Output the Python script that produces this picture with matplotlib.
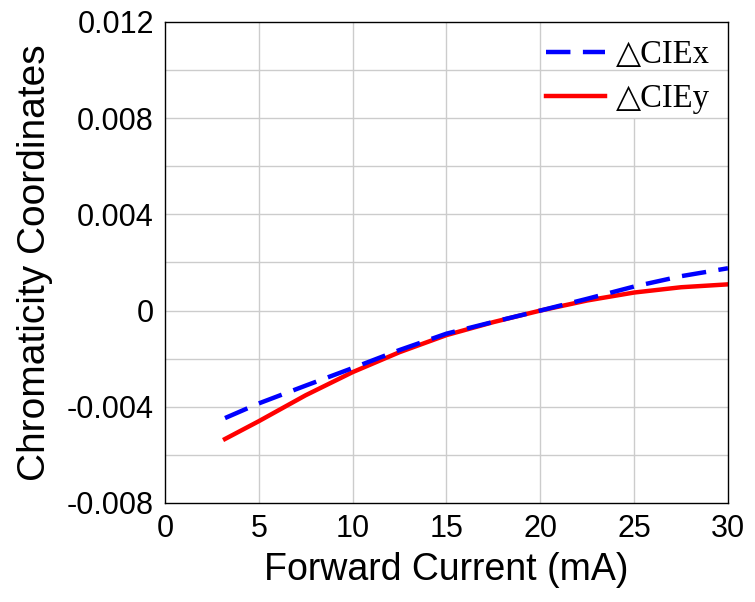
import numpy as np
import matplotlib
matplotlib.use('Agg')
import matplotlib.pyplot as plt

# Forward current (mA) and chromaticity shifts
current = [3.2, 5, 7.5, 10, 12.5, 15, 17.5, 20, 22.5, 25, 27.5, 30]
d_cie_x = [-0.00447, -0.00386, -0.00312, -0.00239, -0.00164, -0.00096,
           -0.00047, 0.0, 0.00049, 0.00100, 0.00143, 0.00176]
d_cie_y = [-0.00534, -0.00460, -0.00352, -0.00256, -0.00173, -0.00102,
           -0.00048, 0.0, 0.00042, 0.00075, 0.00097, 0.00109]

x_ticks = [0, 5, 10, 15, 20, 25, 30]
y_ticks = [-0.008, -0.004, 0, 0.004, 0.008, 0.012]
y_tick_labels = ['-0.008', '-0.004', '0', '0.004', '0.008', '0.012']

plt.rcParams['font.family'] = ['Liberation Sans', 'DejaVu Sans']

fig = plt.figure(figsize=(7.55, 6.02), dpi=100)
ax = fig.add_axes([0.2185, 0.1645, 0.7457, 0.799])

# grid (vertical line at 25 is hidden behind the legend)
for xv in [5, 10, 15, 20]:
    ax.axvline(xv, color='#cccccc', lw=1, zorder=0)
ax.vlines(25, -0.008, 0.008, color='#cccccc', lw=1, zorder=0)
for yv in np.arange(-0.006, 0.0111, 0.002):
    ax.axhline(yv, color='#cccccc', lw=1, zorder=0)

ax.plot(current, d_cie_x, color='#0000ff', lw=3.2, dashes=(5.5, 2.8),
        label='△CIEx', zorder=3)
ax.plot(current, d_cie_y, color='#ff0000', lw=3.2, label='△CIEy', zorder=2)

ax.set_xlim(0, 30)
ax.set_ylim(-0.008, 0.012)
ax.set_xticks(x_ticks)
ax.set_yticks(y_ticks)
ax.set_yticklabels(y_tick_labels)
ax.tick_params(length=0, labelsize=22, pad=8)

for s in ax.spines.values():
    s.set_linewidth(1.0)
    s.set_color('black')

ax.set_xlabel('Forward Current (mA)', fontsize=27, labelpad=6)
ax.set_ylabel('Chromaticity Coordinates', fontsize=28, labelpad=10)

leg = ax.legend(loc='upper right', frameon=False, handlelength=1.8,
                handletextpad=0.35, labelspacing=0.4, borderaxespad=0.15,
                prop={'family': ['Liberation Serif', 'DejaVu Serif', 'DejaVu Sans'],
                      'size': 23.5})

fig.savefig('out.png', dpi=100)
